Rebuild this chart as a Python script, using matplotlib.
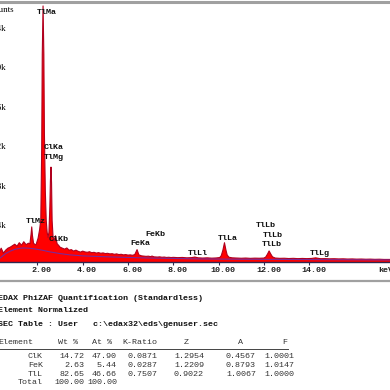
import matplotlib
matplotlib.use('Agg')
import matplotlib.pyplot as plt
from matplotlib.lines import Line2D
import matplotlib.transforms as mtrans

W = H = 390

# ---- spectrum (energy keV, counts) ----
energy = [0.30, 0.40, 0.50, 0.60, 0.70, 0.80, 0.90, 1.00, 1.10, 1.20, 1.30, 1.40, 1.50, 1.60,
          1.67, 1.72, 1.75, 1.78, 1.83, 1.90, 1.94, 2.03, 2.10, 2.15, 2.19, 2.215, 2.25, 2.285,
          2.31, 2.35, 2.39, 2.43, 2.47, 2.51, 2.55, 2.575, 2.60, 2.625, 2.65, 2.69, 2.73, 2.80,
          2.87, 2.95, 3.00,
          3.1, 3.2, 3.3, 3.4, 3.5, 3.6, 3.7, 3.8, 3.9, 4.0, 4.1, 4.2, 4.3, 4.4, 4.5, 4.6, 4.7,
          4.8, 4.9, 5.0, 5.1, 5.2, 5.3, 5.4, 5.5, 5.6, 5.7, 5.8, 5.9, 6.0, 6.1, 6.2, 6.30, 6.40,
          6.48, 6.6, 6.7, 6.8, 6.9, 7.0, 7.06, 7.15, 7.3, 7.4, 7.5, 7.6, 7.7, 7.8, 7.9, 8.0,
          8.2, 8.4, 8.6, 8.8, 8.95, 9.1, 9.3, 9.5, 9.7, 9.9, 10.05, 10.12, 10.19, 10.26, 10.32,
          10.38, 10.46, 10.6, 10.8, 11.0, 11.2, 11.4, 11.6, 11.8, 12.0, 12.08, 12.16, 12.23,
          12.30, 12.38, 12.5, 12.7, 12.9, 13.1, 13.3, 13.5, 13.7, 13.9, 14.1, 14.29, 14.5, 14.7,
          14.9, 15.1, 15.3, 15.5, 15.7, 15.9, 16.1, 16.3, 16.5, 16.7, 16.9, 17.1, 17.3, 17.6]
counts = [80, 140, 90, 120, 140, 150, 165, 180, 160, 195, 170, 205, 175, 190,
          185, 280, 355, 270, 190, 175, 175, 240, 330, 430, 1150, 2100, 2590, 2100,
          1300, 720, 420, 300, 250, 300, 560, 820, 960, 800, 420, 260, 215, 265,
          185, 165, 150,
          140, 130, 142, 120, 125, 110, 120, 108, 100, 110, 102, 98, 104, 94, 98, 90, 95,
          88, 92, 85, 88, 82, 84, 78, 82, 75, 78, 72, 75, 70, 72, 68, 75, 125,
          72, 62, 60, 57, 59, 54, 60, 52, 50, 52, 48, 50, 46, 48, 45, 47,
          44, 46, 42, 44, 50, 42, 40, 42, 39, 41, 45, 65, 120, 195, 125,
          70, 48, 42, 40, 38, 40, 37, 39, 38, 40, 50, 80, 112,
          82, 52, 40, 37, 38, 35, 37, 34, 36, 34, 36, 42, 33, 34,
          32, 33, 31, 32, 30, 31, 29, 30, 28, 29, 27, 28, 26, 26]

# background (continuum fit) curve
bg_energy = [0.35, 0.6, 0.8, 1.0, 1.2, 1.36, 1.6, 1.9, 2.2, 2.56, 3.0, 3.44, 4.0, 4.76,
             6.0, 7.0, 8.0, 9.2, 11.0, 13.6, 17.6]
bg_counts = [40, 85, 110, 128, 138, 142, 140, 132, 120, 102, 85, 72, 62, 55,
             46, 40, 36, 31, 28, 25, 20]

peak_names = ['TlMa', 'ClKa', 'TlMg', 'TlMz', 'ClKb', 'FeKb', 'FeKa', 'TlLl', 'TlLa',
              'TlLb', 'TlLb', 'TlLb', 'TlLg']
peak_label_E = [2.424, 2.733, 2.733, 1.94, 2.93, 7.21, 6.55, 9.09, 10.42, 12.09, 12.40, 12.36, 14.46]
peak_label_c = [2520, 1160, 1060, 405, 232, 283, 192, 91, 242, 374, 273, 182, 81]

xticks = [2, 4, 6, 8, 10, 12, 14]
xticklabels = ['2.00', '4.00', '6.00', '8.00', '10.00', '12.00', '14.00']
yticks = [400, 800, 1200, 1600, 2000, 2400]
yticklabels = ['0.4k', '0.8k', '1.2k', '1.6k', '2.0k', '2.4k']

# ---- quantification table ----
title_lines = ['EDAX PhiZAF Quantification (Standardless)',
               'Element Normalized',
               'SEC Table : User   c:\\edax32\\eds\\genuser.sec']
col_headers = ['Element', 'Wt %', 'At %', 'K-Ratio', 'Z', 'A', 'F']
elements = ['ClK', 'FeK', 'TlL']
wt_pct = ['14.72', '2.63', '82.65']
at_pct = ['47.90', '5.44', '46.66']
k_ratio = ['0.0871', '0.0287', '0.7507']
z_corr = ['1.2954', '1.2209', '0.9022']
a_corr = ['0.4567', '0.8793', '1.0067']
f_corr = ['1.0001', '1.0147', '1.0000']
total_row = ['Total', '100.00', '100.00']

fig = plt.figure(figsize=(3.9, 3.9), dpi=100)
fig.patch.set_facecolor('white')


def fx(px):
    return px / W


def fy(py):
    return 1 - py / H


ax = fig.add_axes([0, fy(262), 1, (262 - 3) / H])
ax.set_facecolor('none')
ax.set_xlim(0.349, 0.349 + 390 / 22.65)
ax.set_ylim(0, 2620)
ax.fill_between(energy, counts, 0, color='#ff0000', lw=0)
ax.plot(energy, counts, color='#b0001e', lw=0.8)
ax.plot(bg_energy, bg_counts, color='#7a2a9a', lw=0.8)
for s in ['top', 'right', 'left']:
    ax.spines[s].set_visible(False)
ax.spines['bottom'].set_color('#302850')
ax.spines['bottom'].set_linewidth(1.0)

mono = 'Liberation Mono'
ax.set_xticks(xticks)
ax.set_xticklabels(xticklabels, family=mono, fontsize=6, fontweight='bold', color='#222222')
ax.tick_params(axis='x', direction='out', length=2.2, width=0.8, color='#302850', pad=1.5)
off = mtrans.ScaledTranslation(4.5 / 100, 0, fig.dpi_scale_trans)
for lab in ax.get_xticklabels():
    lab.set_transform(lab.get_transform() + off)

ax.set_yticks(yticks)
ax.set_yticklabels(yticklabels, family='Liberation Serif', fontsize=6.5, va='top')
ax.tick_params(axis='y', length=0, pad=-4.3)

for name, e, c in zip(peak_names, peak_label_E, peak_label_c):
    ax.text(e, c, name, ha='center', va='center', family=mono, fontsize=6,
            fontweight='bold', color='#111111')

fig.text(fx(14.5), fy(10), 'Counts', ha='right', va='center', family='Liberation Serif', fontsize=6.5)
fig.text(fx(378), fy(270), 'keV', ha='left', va='center', family=mono, fontsize=6,
         fontweight='bold', color='#222222')

# window borders
fig.add_artist(Line2D([0, 1], [fy(1.5), fy(1.5)], transform=fig.transFigure, color='#a0a0a0', lw=2.2))
fig.add_artist(Line2D([0, 1], [fy(281), fy(281)], transform=fig.transFigure, color='#a0a0a0', lw=1.6))

# table text
for line, py in zip(title_lines, [298, 311, 325]):
    fig.text(fx(-2), fy(py), line, ha='left', va='center', family=mono, fontsize=6,
             fontweight='bold', color='#111111')

header_x = [-2, 58, 92, 122, 184, 238, 282]
for h, px in zip(col_headers, header_x):
    fig.text(fx(px), fy(343), h, ha='left', va='center', family=mono, fontsize=6, color='#333333')
fig.add_artist(Line2D([0, fx(288)], [fy(349), fy(349)], transform=fig.transFigure, color='#444444', lw=0.7))

right_edges = [43, 84, 117, 157, 204, 256, 294]
row_y = [357, 365.5, 374]
for i, py in enumerate(row_y):
    vals = [elements[i], wt_pct[i], at_pct[i], k_ratio[i], z_corr[i], a_corr[i], f_corr[i]]
    for v, px in zip(vals, right_edges):
        fig.text(fx(px), fy(py), v, ha='right', va='center', family=mono, fontsize=6, color='#333333')
for v, px in zip(total_row, right_edges[:3]):
    fig.text(fx(px), fy(383), v, ha='right', va='center', family=mono, fontsize=6, color='#333333')

fig.savefig('out.png', dpi=100, facecolor='white')
